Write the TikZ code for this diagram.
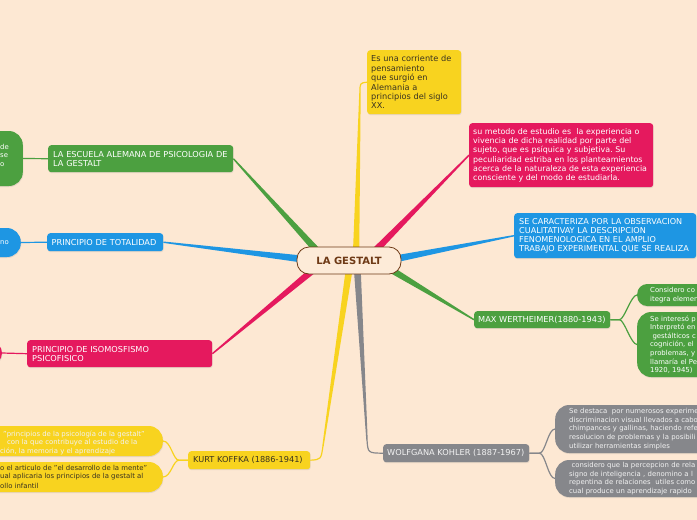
\documentclass[tikz,border=0pt]{standalone}
\usepackage{fontspec}
\setmainfont{DejaVu Sans}
\usetikzlibrary{calc,shadows}
\pgfdeclarelayer{back}
\pgfdeclarelayer{lines}
\pgfsetlayers{back,lines,main}
\definecolor{bgc}{HTML}{FDE8D3}
\definecolor{grn}{HTML}{4CA040}
\definecolor{blu}{HTML}{1E96E3}
\definecolor{pnk}{HTML}{E5195E}
\definecolor{ylw}{HTML}{F8D31F}
\definecolor{gry}{HTML}{86878B}
\definecolor{brn}{HTML}{6E3A16}
\definecolor{ctrfill}{HTML}{FDEBD8}
\definecolor{dtxt}{HTML}{3A3320}
\definecolor{ltxt}{HTML}{F2F2F2}
\frenchspacing
\newcommand\taperline[4]{%
  \fill[#1] ($(#2)!#4!90:(#3)$) -- ($(#3)!0.7pt!-90:(#2)$) -- ($(#3)!0.7pt!90:(#2)$) -- ($(#2)!#4!-90:(#3)$) -- cycle;}
\begin{document}
\begin{tikzpicture}[x=1pt,y=-1pt,
  shad/.style={drop shadow={shadow xshift=0.5pt, shadow yshift=-1pt, opacity=0.18}},
  box/.style={shad, rounded corners=3pt, inner xsep=5pt, inner ysep=0pt, align=left, text=white, anchor=north west, font=\fontsize{8.2}{9.3}\selectfont},
  leaf/.style={shad, rounded corners=14pt, inner ysep=0pt, align=left, text=white, font=\fontsize{6.9}{8.6}\selectfont},
  leaftext/.style={anchor=west, inner sep=0pt, text=white, font=\fontsize{6.9}{8.6}\selectfont},
  conn/.style={line width=1.2pt},
]
\useasboundingbox (0,0) rectangle (697,520);
\begin{pgfonlayer}{back}
\fill[bgc] (0,0) rectangle (697,520);
\end{pgfonlayer}

% central node
\node[draw=brn, line width=0.8pt, fill=ctrfill, rounded corners=12pt, minimum width=104pt, minimum height=27pt, font=\bfseries\fontsize{10}{12}\selectfont, text=brn] (ges) at (349,260.5) {LA GESTALT};

% main topics
\node[box, fill=ylw, text=dtxt, text width=86pt, inner xsep=4pt, minimum height=64pt, font=\fontsize{8.2}{9.4}\selectfont] (es) at (367,50) {Es una corriente de\\pensamiento\\que surgió en\\Alemania a\\principios del siglo\\XX.};
\node[box, fill=pnk, text width=176pt, inner xsep=4pt, minimum height=64pt, font=\fontsize{7.9}{9.3}\selectfont] (su) at (469,123) {su metodo de estudio es\ \ la experiencia o\\vivencia de dicha realidad por parte del\\sujeto, que es psíquica y subjetiva. Su\\peculiaridad estriba en los planteamientos\\acerca de la naturaleza de esta experiencia\\consciente y del modo de estudiarla.};
\node[box, fill=blu, text width=172pt, minimum height=45pt, font=\fontsize{8.1}{9.2}\selectfont] (se) at (514,213) {SE CARACTERIZA POR LA OBSERVACION\\CUALITATIVAY LA DESCRIPCION\\FENOMENOLOGICA EN EL AMPLIO\\TRABAJO EXPERIMENTAL QUE SE REALIZA};
\node[box, fill=grn, text width=128pt, inner xsep=4pt, minimum height=17pt] (max) at (474,311) {MAX WERTHEIMER(1880-1943)};
\node[box, fill=gry, text=ltxt, text width=138pt, inner xsep=4pt, minimum height=18pt] (koh) at (383,444) {WOLFGANA KOHLER (1887-1967)};
\node[box, fill=ylw, text=dtxt, text width=112pt, minimum height=18pt] (kof) at (188,451) {KURT KOFFKA (1886-1941)};
\node[box, fill=pnk, text width=175pt, minimum height=27pt] (iso) at (27,340) {PRINCIPIO DE ISOMOSFISMO\\PSICOFISICO};
\node[box, fill=blu, text width=107pt, inner xsep=4.5pt, minimum height=18pt] (tot) at (47,233) {PRINCIPIO DE TOTALIDAD};
\node[box, fill=grn, text width=175pt, minimum height=27pt] (esc) at (48,145) {LA ESCUELA ALEMANA DE PSICOLOGIA DE\\LA GESTALT};

% right leaves
\node[leaf, fill=grn, rounded corners=10pt, anchor=west, text width=200pt, inner xsep=13pt, minimum height=22pt] (ml1) at (637,295) {Considero co\\itegra elemen};
\node[leaf, fill=grn, anchor=west, text width=200pt, inner xsep=13pt, minimum height=65pt] (ml2) at (637,344.5) {Se interesó p\\Interpretó en\\\ gestálticos c\\cognición, el\\problemas, y\\llamaría el Pe\\1920, 1945)};
\node[leaf, fill=gry, text=ltxt, anchor=west, text width=200pt, inner xsep=14pt, minimum height=48pt] (kl1) at (555,429) {Se destaca\ \ por numerosos experime\\discriminacion visual llevados a cabo\\chimpances y gallinas, haciendo refe\\resolucion de problemas y la posibili\\utilizar herramientas simples};
\node[leaf, fill=gry, text=ltxt, anchor=west, text width=200pt, inner xsep=14pt, minimum height=37pt] (kl2) at (555,478.5) {\ considero que la percepcion de rela\\signo de inteligencia , denomino a l\\repentina de relaciones\ \ utiles como\\cual produce un aprendizaje rapido};

% left leaves
\node[leaf, fill=grn, anchor=east, minimum width=150pt, minimum height=55pt] (el) at (23,158.5) {};
\node[leaf, fill=blu, anchor=east, minimum width=150pt, minimum height=29pt] (tl) at (21,242.5) {};
\node[leaf, fill=pnk, rounded corners=9pt, anchor=east, minimum width=150pt, minimum height=20pt] (il) at (2,353) {};
\node[leaf, fill=ylw, anchor=east, minimum width=250pt, minimum height=30pt] (fl1) at (163,441) {};
\node[leaf, fill=ylw, anchor=east, minimum width=250pt, minimum height=30pt] (fl2) at (163,477) {};

\node[leaftext] (elt1) at (0,147) {de};
\node[leaftext] (elt2) at (0,156) {se};
\node[leaftext] (elt3) at (0,165) {o};
\node[leaftext] (tlt) at (0,243) {no};
\node[leaftext, text=ltxt] (fa1) at (3,434) {"principios de la psicología de la gestalt"};
\node[leaftext, text=ltxt] (fa2) at (7,442.5) {con la que contribuye al estudio de la};
\node[leaftext, text=ltxt] (fa3) at (0,451) {ción, la memoria y el aprendizaje};
\node[leaftext, text=dtxt] (fb1) at (0,468) {o el articulo de "el desarrollo de la mente"};
\node[leaftext, text=dtxt] (fb2) at (0,477) {ual aplicaria los principios de la gestalt al};
\node[leaftext, text=dtxt] (fb3) at (0,486) {ollo infantil};

% branches
\coordinate (s1) at (356,256);
\coordinate (m1) at (360,92);
\coordinate (s2) at (372,254);
\coordinate (s3) at (395,259);
\coordinate (s4) at (385,266);
\coordinate (s5) at (357,264);
\coordinate (m5) at (367,440);
\coordinate (s6) at (350,264);
\coordinate (m6) at (323,446);
\coordinate (s7) at (318,266);
\coordinate (s8) at (302,259);
\coordinate (s9) at (320,254);
\begin{pgfonlayer}{lines}
\taperline{ylw}{s1}{m1}{3.2pt}
\draw[ylw, conn] (m1) .. controls (360,83) .. (es.west);
\taperline{pnk}{s2}{su.west}{3.5pt}
\taperline{blu}{s3}{se.west}{3.5pt}
\taperline{grn}{s4}{max.west}{3.5pt}
\taperline{gry}{s5}{m5}{3.5pt}
\draw[gry, conn] (m5) .. controls (368,453) .. (koh.west);
\taperline{ylw}{s6}{m6}{3.5pt}
\draw[ylw, conn] (m6) .. controls (321,459.5) .. (kof.east);
\taperline{pnk}{s7}{iso.east}{3.5pt}
\taperline{blu}{s8}{tot.east}{3.5pt}
\taperline{grn}{s9}{esc.east}{3.5pt}
% leaf connectors
\draw[grn, conn] (esc.west) -- (el.east);
\draw[blu, conn] (tot.west) -- (tl.east);
\draw[pnk, conn] (iso.west) -- (il.east);
\draw[ylw, conn] (kof.west) -- ++(-9,0) .. controls +(-6,0) and +(8,0) .. (fl1.east);
\draw[ylw, conn] (kof.west) -- ++(-9,0) .. controls +(-6,0) and +(8,0) .. (fl2.east);
\draw[grn, conn] (max.east) -- ++(9,0) .. controls +(5,0) and +(-6,0) .. (ml1.west);
\draw[grn, conn] (max.east) -- ++(9,0) .. controls +(5,0) and +(-6,0) .. (ml2.west);
\draw[gry, conn] (koh.east) -- ++(10,0) .. controls +(6,0) and +(-7,0) .. (kl1.west);
\draw[gry, conn] (koh.east) -- ++(10,0) .. controls +(6,0) and +(-7,0) .. (kl2.west);
\end{pgfonlayer}
\end{tikzpicture}
\end{document}
